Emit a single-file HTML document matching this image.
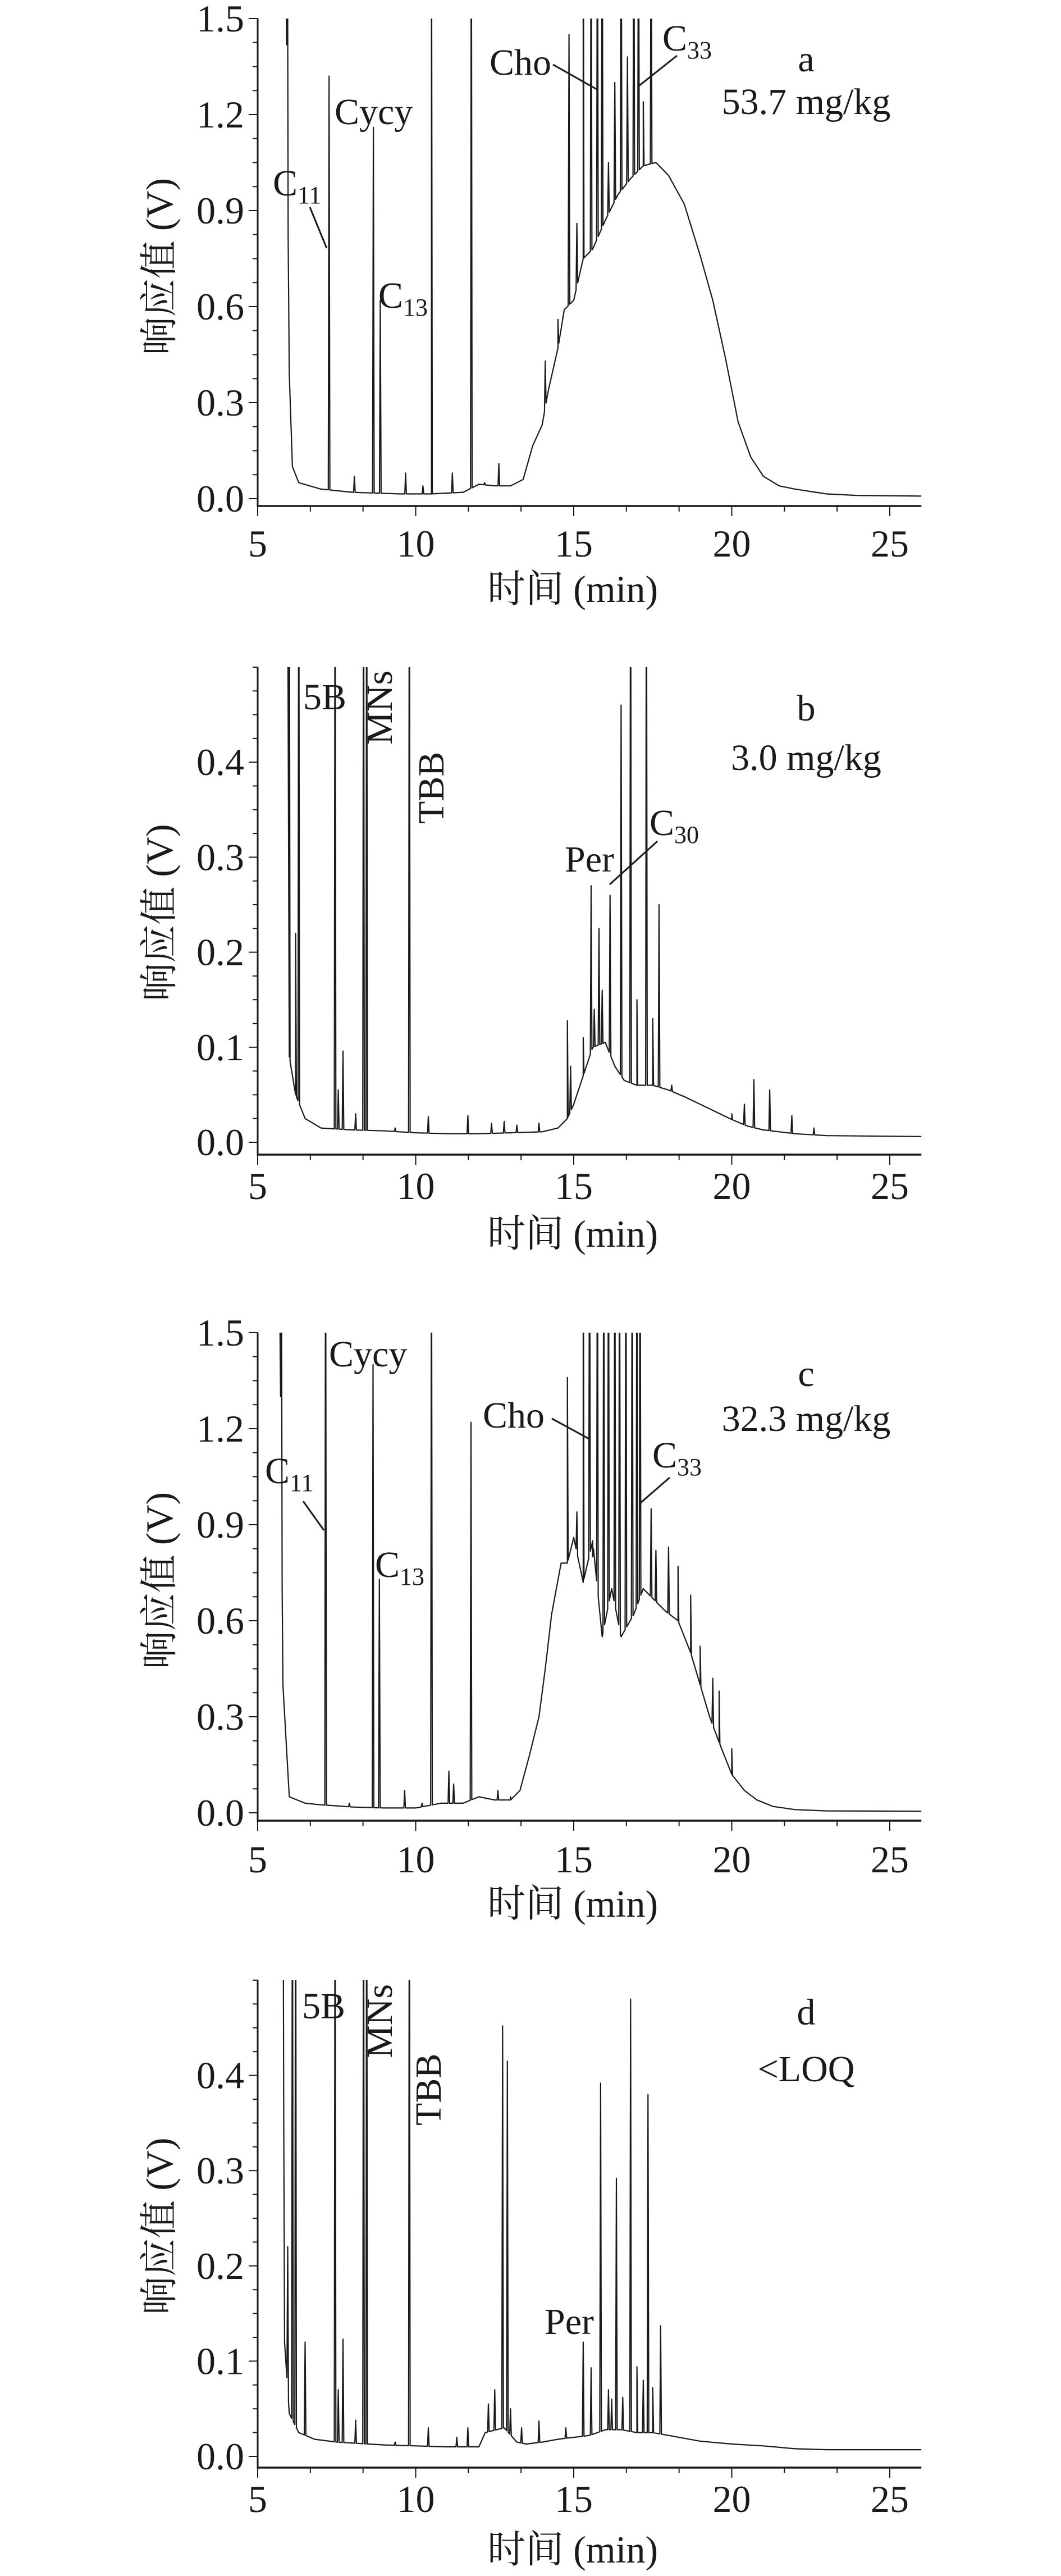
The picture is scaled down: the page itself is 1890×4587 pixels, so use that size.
<!DOCTYPE html>
<html><head><meta charset="utf-8"><style>
html,body{margin:0;padding:0;background:#fff}
svg{display:block}
text{font-family:"Liberation Serif","Noto Serif CJK SC","Noto Sans CJK SC",serif;fill:#1a1a1a}
</style></head><body>
<svg id="fig" width="1890" height="4587" viewBox="0 0 1890 4587" xmlns="http://www.w3.org/2000/svg"></svg>
<script>
// ---- Panel a data ----
const aBaseT=[5.9,6.0,6.1,6.3,7.0,8.0,9.5,10.5,11.5,12.0,12.5,13.0,13.4,13.7,14.0,14.2,14.5,14.7,15.0,15.3,15.6,16.0,16.4,16.8,17.2,17.6,18.0,18.5,19.0,19.4,19.8,20.2,20.6,21.0,21.5,22.0,23.0,24.0,26.0];
const aBaseV=[1.6,0.39,0.1,0.05,0.03,0.02,0.015,0.015,0.02,0.045,0.04,0.04,0.06,0.165,0.23,0.34,0.47,0.59,0.62,0.75,0.78,0.87,0.95,1.0,1.04,1.05,1.01,0.92,0.76,0.62,0.44,0.24,0.13,0.07,0.04,0.03,0.015,0.01,0.008];
const aPeakT=[5.94,7.26,8.06,8.66,8.88,9.68,10.23,10.5,11.16,11.76,12.18,12.63,14.1,14.5,14.85,15.1,15.3,15.55,15.75,15.9,16.1,16.3,16.5,16.7,16.9,17.05,17.2,17.45];
const aPeakV=[2,1.32,0.07,1.16,0.62,0.08,0.04,2,0.08,2,0.05,0.11,0.43,0.56,1.45,0.86,2,2,2,2,1.05,1.3,2,1.38,2,2,1.24,2];
// ---- Panel b data ----
const bBaseT=[5.95,6.0,6.2,6.5,7.0,8.0,9.0,10.0,11.0,12.0,13.0,14.0,14.5,14.8,15.0,15.3,15.6,16.0,16.3,16.6,17.0,17.5,18.0,18.5,19.0,19.5,20.0,20.5,21.0,22.0,23.0,26.0];
const bBaseV=[0.6,0.09,0.05,0.025,0.015,0.013,0.012,0.01,0.009,0.009,0.01,0.011,0.015,0.025,0.04,0.07,0.1,0.105,0.08,0.065,0.06,0.06,0.055,0.048,0.04,0.032,0.024,0.017,0.013,0.009,0.007,0.006];
const bPeakT=[6.0,6.2,6.3,7.45,7.55,7.7,8.1,8.35,8.45,9.35,9.8,10.4,11.65,12.4,12.8,13.2,13.9,14.8,14.9,15.3,15.55,15.65,15.8,15.9,16.15,16.5,16.8,17.0,17.3,17.5,17.7,18.1,19.0,20.0,20.4,20.7,21.2,21.9,22.6];
const bPeakV=[0.7,0.22,0.7,0.7,0.055,0.096,0.03,0.7,0.7,0.015,0.7,0.027,0.028,0.02,0.022,0.018,0.02,0.128,0.08,0.11,0.27,0.14,0.225,0.16,0.26,0.46,0.7,0.15,0.7,0.13,0.25,0.06,0.04,0.03,0.04,0.066,0.055,0.028,0.015];
// ---- Panel c data ----
const cBaseT=[5.7,5.8,6.0,6.5,7.0,8.0,9.0,10.0,10.8,11.5,12.0,12.5,13.0,13.3,13.6,13.9,14.1,14.3,14.6,14.8,15.0,15.3,15.6,15.9,16.2,16.5,16.9,17.2,17.5,17.9,18.3,18.7,19.0,19.3,19.6,20.0,20.4,20.8,21.3,22.0,23.0,26.0];
const cBaseV=[1.6,0.4,0.05,0.03,0.025,0.018,0.015,0.015,0.03,0.03,0.05,0.04,0.04,0.07,0.18,0.3,0.45,0.62,0.78,0.78,0.86,0.72,0.85,0.55,0.7,0.55,0.62,0.7,0.67,0.63,0.6,0.5,0.4,0.3,0.22,0.12,0.07,0.04,0.02,0.01,0.006,0.005];
const cPeakT=[5.75,7.15,7.9,8.65,8.85,9.65,10.2,10.5,11.05,11.2,11.75,12.6,13.0,14.8,15.1,15.3,15.5,15.6,15.75,15.95,16.1,16.3,16.45,16.65,16.85,17.0,17.1,17.45,17.6,18.0,18.3,18.7,19.0,19.4,19.6,20.0];
const cPeakV=[2,2,0.03,1.4,0.73,0.07,0.03,2,0.13,0.09,1.22,0.07,0.05,1.36,0.94,2,2,0.8,2,2,2,2,2,2,2,2,2,0.95,0.82,0.83,0.77,0.68,0.52,0.42,0.38,0.2];
// ---- Panel d data ----
const dBaseT=[5.8,5.85,6.0,6.3,6.8,7.5,9.0,10.0,11.0,12.0,12.2,12.8,13.2,13.5,14.0,14.5,15.0,15.5,16.0,16.5,17.0,17.5,18.0,19.0,20.0,21.0,22.0,23.0,26.0];
const dBaseV=[0.6,0.12,0.045,0.025,0.018,0.015,0.012,0.011,0.01,0.01,0.025,0.03,0.015,0.013,0.015,0.018,0.02,0.022,0.028,0.028,0.025,0.025,0.022,0.016,0.013,0.011,0.008,0.007,0.007];
const dPeakT=[5.8,5.95,6.1,6.2,6.5,7.45,7.55,7.7,8.1,8.35,8.45,9.35,9.8,10.4,11.3,11.65,12.3,12.5,12.75,12.9,13.0,13.35,13.9,14.75,15.3,15.55,15.85,16.1,16.2,16.35,16.55,16.8,17.0,17.2,17.35,17.5,17.75];
const dPeakV=[0.7,0.22,0.7,0.7,0.12,0.7,0.07,0.123,0.038,0.7,0.7,0.015,0.7,0.03,0.02,0.03,0.055,0.07,0.452,0.415,0.05,0.03,0.037,0.03,0.12,0.093,0.392,0.07,0.06,0.292,0.062,0.48,0.094,0.08,0.38,0.072,0.137];
const xTickLabels=["5","10","15","20","25"];
const xTickVals=[5,10,15,20,25];
const aYTicks=[0,0.3,0.6,0.9,1.2,1.5];
const bYTicks=[0,0.1,0.2,0.3,0.4];

const NS="http://www.w3.org/2000/svg";
const svg=document.getElementById('fig');
function mk(tag,attrs,parent){const e=document.createElementNS(NS,tag);for(const k in attrs)e.setAttribute(k,attrs[k]);(parent||svg).appendChild(e);return e;}

const panels=[
 {id:'a',top:33,zero:888,axisY:901,vmax:1.5,yt:aYTicks,minor:0.075,dec:1,bt:aBaseT,bv:aBaseV,pt:aPeakT,pv:aPeakV,labY:968,xlabY:1049},
 {id:'b',top:1188,zero:2034,axisY:2056,vmax:0.5,yt:bYTicks,minor:0.025,dec:1,bt:bBaseT,bv:bBaseV,pt:bPeakT,pv:bPeakV,labY:2112,xlabY:2197},
 {id:'c',top:2373,zero:3228,axisY:3242,vmax:1.5,yt:aYTicks,minor:0.075,dec:1,bt:cBaseT,bv:cBaseV,pt:cPeakT,pv:cPeakV,labY:3311,xlabY:3390},
 {id:'d',top:3526,zero:4374,axisY:4394,vmax:0.5,yt:bYTicks,minor:0.025,dec:1,bt:dBaseT,bv:dBaseV,pt:dPeakT,pv:dPeakV,labY:4450,xlabY:4540}
];
const X0=459, PXMIN=56.3;
function xs(t){return X0+(t-5)*PXMIN;}
function interp(T,V,t){if(t<=T[0])return V[0];for(let i=1;i<T.length;i++){if(t<=T[i]){const f=(t-T[i-1])/(T[i]-T[i-1]);return V[i-1]+f*(V[i]-V[i-1]);}}return V[V.length-1];}

panels.forEach(p=>{
  const ys=v=>p.zero-(v/p.vmax)*(p.zero-p.top);
  const g=mk('g',{});
  
  
  const cp=mk('clipPath',{id:'clip'+p.id},g);
  mk('rect',{x:X0,y:p.top,width:xs(26)-X0,height:p.axisY-p.top},cp);
  const pts=[];
  p.bt.forEach((t,i)=>pts.push([t,p.bv[i]]));
  p.pt.forEach((t,i)=>{const w=0.025;pts.push([t-w,interp(p.bt,p.bv,t-w)]);pts.push([t,p.pv[i]]);pts.push([t+w,interp(p.bt,p.bv,t+w)]);});
  pts.sort((a,b)=>a[0]-b[0]);
  const d=pts.map((q,i)=>(i?'L':'M')+xs(q[0]).toFixed(1)+' '+ys(q[1]).toFixed(1)).join(' ');
  const path=mk('path',{d:d,fill:'none',stroke:'#1a1a1a','stroke-width':2.2,'stroke-linejoin':'round','clip-path':'url(#clip'+p.id+')'},g);
  
  
  const ya=mk('line',{x1:X0,y1:p.top,x2:X0,y2:p.axisY,stroke:'#1a1a1a','stroke-width':3},g);
  
  
  const xa=mk('line',{x1:X0-1.5,y1:p.axisY,x2:xs(26),y2:p.axisY,stroke:'#1a1a1a','stroke-width':3.5},g);
  
  
  for(let v=0;v<=p.vmax+1e-6;v+=p.minor){
    const isMaj=p.yt.some(m=>Math.abs(m-v)<1e-6);
    mk('line',{x1:X0,x2:X0-(isMaj?16:9),y1:ys(v),y2:ys(v),stroke:'#1a1a1a','stroke-width':2},g);
  }
  p.yt.forEach(v=>{
    const t=mk('text',{x:X0-24,y:ys(v)+23,'text-anchor':'end','font-size':68},g);
    t.textContent=v.toFixed(p.dec);
    
    
  });
  for(let k=0;k<=12;k++){
    const t=5+k*5/3; if(t>26)break;
    const maj=k%3===0;
    mk('line',{x1:xs(t),x2:xs(t),y1:p.axisY,y2:p.axisY+(maj?18:10),stroke:'#1a1a1a','stroke-width':2},g);
  }
  xTickVals.forEach((v,i)=>{
    const t=mk('text',{x:xs(v),y:p.labY+23,'text-anchor':'middle','font-size':68},g);
    t.textContent=xTickLabels[i];
    
    
  });
  const xl=mk('text',{x:X0+(xs(26)-X0)/2-30,y:p.xlabY+23,'text-anchor':'middle','font-size':68},g);
  xl.textContent='时间 (min)';
  
  
  const cy=(p.top+p.zero)/2+14;
  const yl=mk('text',{x:0,y:0,'text-anchor':'middle','font-size':68,transform:'translate(307 '+cy+') rotate(-90)'},g);
  yl.textContent='响应值 (V)';
  
  
});

function label(x,y,txt,sub,name,rot){
  const t=mk('text',{x:x,y:y,'font-size':66});
  if(rot)t.setAttribute('transform','rotate(-90 '+x+' '+y+')');
  t.textContent=txt;
  if(sub){const s=mk('tspan',{'font-size':44,dy:14},t);s.textContent=sub;}
  
  
}
function lead(x1,y1,x2,y2,name){
  const l=mk('line',{x1:x1,y1:y1,x2:x2,y2:y2,stroke:'#1a1a1a','stroke-width':3});
  
  
}
function center(x,y,txt,name){
  const t=mk('text',{x:x,y:y,'font-size':66,'text-anchor':'middle'});
  t.textContent=txt;
  
  
}
// panel a
label(486,348,'C','11','peak-label-c11'); lead(552,369,582,442,'leader-c11');
label(596,221,'Cycy',null,'peak-label-cycy');
label(674,548,'C','13','peak-label-c13');
label(872,133,'Cho',null,'peak-label-cho'); lead(985,115,1063,159,'leader-cho');
label(1180,90,'C','33','peak-label-c33'); lead(1206,99,1138,153,'leader-c33');
center(1436,127,'a','panel-letter-a'); center(1436,203,'53.7 mg/kg','concentration-a');
// panel b
label(540,1263,'5B',null,'peak-label-5b');
label(698,1326,'MNs',null,'peak-label-mns',true);
label(790,1467,'TBB',null,'peak-label-tbb',true);
label(1006,1552,'Per',null,'peak-label-per');
label(1157,1487,'C','30','peak-label-c30'); lead(1171,1498,1086,1575,'leader-c30');
center(1436,1283,'b','panel-letter-b'); center(1436,1371,'3.0 mg/kg','concentration-b');
// panel c
label(586,2433,'Cycy',null,'peak-label-cycy');
label(472,2641,'C','11','peak-label-c11'); lead(540,2673,577,2725,'leader-c11');
label(668,2808,'C','13','peak-label-c13');
label(860,2542,'Cho',null,'peak-label-cho'); lead(983,2526,1051,2563,'leader-cho');
label(1162,2613,'C','33','peak-label-c33'); lead(1193,2631,1141,2676,'leader-c33');
center(1436,2468,'c','panel-letter-c'); center(1436,2548,'32.3 mg/kg','concentration-c');
// panel d
label(538,3594,'5B',null,'peak-label-5b');
label(698,3665,'MNs',null,'peak-label-mns',true);
label(785,3785,'TBB',null,'peak-label-tbb',true);
label(970,4156,'Per',null,'peak-label-per');
center(1436,3605,'d','panel-letter-d'); center(1436,3706,'<LOQ','concentration-d');
</script>
</body></html>
